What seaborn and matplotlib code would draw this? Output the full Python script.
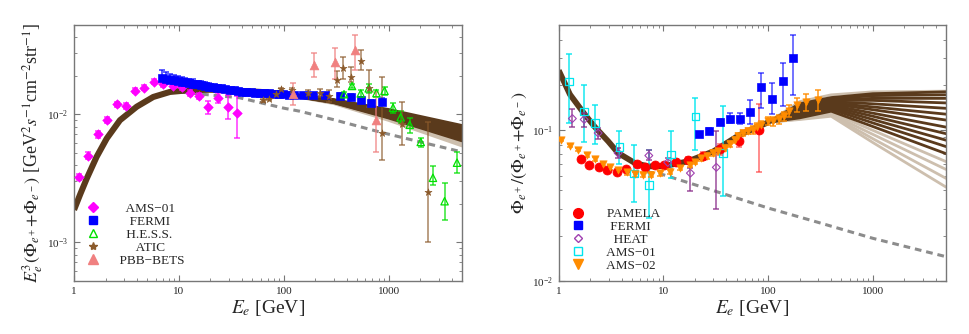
import numpy as np
import pandas as pd
import matplotlib
matplotlib.use("Agg")
import matplotlib.pyplot as plt
import seaborn as sns
from matplotlib.lines import Line2D

# ---------------- data: left panel (total e+ + e- flux) ----------------
ams01_l_e = [1.12, 1.37, 1.68, 2.06, 2.55, 3.13, 3.81, 4.67, 5.78, 7.09, 8.7, 10.6, 12.7, 15.6, 19.0, 23.7, 29.4, 36.0]
ams01_l_y = [3.25e-3, 4.77e-3, 7.0e-3, 9.1e-3, 1.20e-2, 1.16e-2, 1.53e-2, 1.62e-2, 1.80e-2, 1.72e-2, 1.68e-2, 1.63e-2,
             1.47e-2, 1.40e-2, 1.15e-2, 1.35e-2, 1.15e-2, 1.02e-2]
ams01_l_lo = [3.05e-3, 4.5e-3, 6.6e-3, 8.6e-3, 1.14e-2, 1.10e-2, 1.46e-2, 1.55e-2, 1.72e-2, 1.65e-2, 1.61e-2, 1.56e-2,
              1.40e-2, 1.33e-2, 1.0e-2, 1.22e-2, 9.3e-3, 6.6e-3]
ams01_l_hi = [3.45e-3, 5.05e-3, 7.4e-3, 9.6e-3, 1.26e-2, 1.22e-2, 1.60e-2, 1.69e-2, 1.88e-2, 1.80e-2, 1.75e-2, 1.70e-2,
              1.54e-2, 1.47e-2, 1.28e-2, 1.46e-2, 1.42e-2, 1.39e-2]

fermi_l_e = [6.9, 7.5, 8.2, 8.9, 9.7, 10.6, 11.5, 12.5, 13.7, 14.9, 16.3, 17.8, 19.4, 21.2, 23.2, 25.4, 27.8, 30.4,
             33.3, 36.5, 40, 44, 48.5, 53.5, 59, 65, 72, 80, 89, 99, 111, 125, 153, 190, 245, 340, 440, 550, 684, 870]
fermi_l_y = [1.94e-2, 1.91e-2, 1.87e-2, 1.85e-2, 1.82e-2, 1.80e-2, 1.78e-2, 1.76e-2, 1.74e-2, 1.72e-2, 1.70e-2,
             1.68e-2, 1.65e-2, 1.63e-2, 1.61e-2, 1.60e-2, 1.57e-2, 1.55e-2, 1.54e-2, 1.52e-2, 1.51e-2, 1.50e-2,
             1.49e-2, 1.48e-2, 1.47e-2, 1.46e-2, 1.46e-2, 1.45e-2, 1.44e-2, 1.44e-2, 1.43e-2, 1.42e-2, 1.41e-2,
             1.41e-2, 1.41e-2, 1.39e-2, 1.37e-2, 1.29e-2, 1.22e-2, 1.25e-2]
fermi_l_rel = [0.14, 0.12, 0.11, 0.10, 0.10, 0.09, 0.09, 0.08, 0.08, 0.07, 0.07, 0.06, 0.06, 0.05, 0.05, 0.05, 0.04,
               0.04, 0.04, 0.04, 0.04, 0.04, 0.04, 0.04, 0.04, 0.04, 0.04, 0.04, 0.04, 0.04, 0.04, 0.04, 0.04, 0.04,
               0.04, 0.05, 0.05, 0.06, 0.07, 0.08]

hess_e = [375, 447, 541, 645, 764, 912, 1100, 1300, 1585, 2020, 2640, 3410, 4480]
hess_y = [1.44e-2, 1.67e-2, 1.46e-2, 1.60e-2, 1.47e-2, 1.53e-2, 1.13e-2, 9.5e-3, 8.3e-3, 6.1e-3, 3.2e-3, 2.1e-3, 4.2e-3]
hess_lo = [1.38e-2, 1.60e-2, 1.38e-2, 1.48e-2, 1.38e-2, 1.42e-2, 1.03e-2, 8.6e-3, 7.2e-3, 5.6e-3, 2.8e-3, 1.49e-3, 3.5e-3]
hess_hi = [1.50e-2, 1.74e-2, 1.54e-2, 1.72e-2, 1.56e-2, 1.64e-2, 1.23e-2, 1.06e-2, 9.4e-3, 6.6e-3, 3.97e-3, 2.91e-3, 5.1e-3]

atic_e = [63.5, 73, 85, 95, 121, 170, 220, 268, 322, 367, 435, 541, 645, 870, 1330, 2370]
atic_y = [1.29e-2, 1.33e-2, 1.44e-2, 1.57e-2, 1.55e-2, 1.48e-2, 1.46e-2, 1.40e-2, 1.86e-2, 2.32e-2, 1.97e-2,
          2.61e-2, 1.62e-2, 7.2e-3, 8.5e-3, 2.5e-3]
atic_lo = [1.25e-2, 1.29e-2, 1.39e-2, 1.52e-2, 1.49e-2, 1.42e-2, 1.36e-2, 1.26e-2, 1.64e-2, 1.91e-2, 1.80e-2,
           2.22e-2, 1.15e-2, 4.4e-3, 5.75e-3, 1.0e-3]
atic_hi = [1.33e-2, 1.37e-2, 1.49e-2, 1.62e-2, 1.61e-2, 1.54e-2, 1.58e-2, 1.55e-2, 2.20e-2, 2.79e-2, 2.36e-2,
           3.19e-2, 2.22e-2, 1.97e-2, 1.25e-2, 8.75e-3]

pbb_e = [122, 192, 306, 480, 764]
pbb_y = [1.44e-2, 2.45e-2, 2.58e-2, 3.2e-2, 9.0e-3]
pbb_lo = [1.18e-2, 1.97e-2, 1.91e-2, 2.22e-2, 5.1e-3]
pbb_hi = [1.75e-2, 3.0e-2, 3.3e-2, 4.18e-2, 1.5e-2]

# model band (shared part up to 100 GeV, then a fan of curves)
band_l_e = [1, 1.15, 1.32, 1.64, 2.05, 2.74, 3.96, 5.69, 8.2, 12.7, 20, 33, 60, 100]
band_l_y = [1.8e-3, 2.4e-3, 3.15e-3, 4.66e-3, 6.49e-3, 9.02e-3, 1.15e-2, 1.37e-2, 1.50e-2, 1.55e-2, 1.56e-2,
            1.54e-2, 1.50e-2, 1.45e-2]
fan_l_e = [300, 1000, 5000]
fan_l_dark = [[1.29e-2, 1.08e-2, 8.1e-3], [1.28e-2, 1.06e-2, 7.8e-3], [1.28e-2, 1.04e-2, 7.5e-3],
              [1.27e-2, 1.02e-2, 7.25e-3], [1.27e-2, 1.00e-2, 7.0e-3], [1.26e-2, 9.8e-3, 6.75e-3],
              [1.26e-2, 9.6e-3, 6.5e-3], [1.25e-2, 9.5e-3, 6.3e-3]]
fan_l_light = [[1.24e-2, 9.3e-3, 6.0e-3], [1.23e-2, 9.1e-3, 5.75e-3]]

dash_l_e = [10, 38, 100, 142, 300, 820, 2000, 5000]
dash_l_y = [1.5e-2, 1.35e-2, 1.12e-2, 1.06e-2, 9.1e-3, 7.3e-3, 6.1e-3, 5.1e-3]

# ---------------- data: right panel (positron fraction) ----------------
pamela_e = [1.63, 1.96, 2.40, 2.90, 3.59, 4.43, 5.6, 6.7, 8.25, 10.1, 13.1, 17.2, 23.7, 35, 52.5, 82]
pamela_y = [0.0645, 0.0589, 0.0568, 0.0548, 0.0532, 0.0553, 0.060, 0.0568, 0.0585, 0.0585, 0.0616, 0.0638,
            0.068, 0.075, 0.0845, 0.10]
pamela_lo = [0.062, 0.0568, 0.0548, 0.053, 0.0515, 0.0535, 0.058, 0.055, 0.0565, 0.0565, 0.059, 0.061,
             0.064, 0.069, 0.078, 0.053]
pamela_hi = [0.067, 0.061, 0.0588, 0.0566, 0.055, 0.0571, 0.062, 0.0586, 0.0605, 0.0605, 0.0642, 0.0666,
             0.072, 0.081, 0.092, 0.15]

fermi_r_e = [21.7, 27.2, 34.4, 43.4, 54.1, 67.7, 85.7, 110, 138, 174]
fermi_r_y = [0.094, 0.0995, 0.1137, 0.1197, 0.1197, 0.1324, 0.193, 0.1625, 0.212, 0.303]
fermi_r_lo = [0.09, 0.095, 0.108, 0.112, 0.11, 0.11, 0.141, 0.128, 0.146, 0.171]
fermi_r_hi = [0.098, 0.104, 0.119, 0.13, 0.13, 0.16, 0.241, 0.207, 0.278, 0.426]

heat_e = [1.35, 1.75, 2.38, 3.69, 7.25, 11.0, 18.1, 32]
heat_y = [0.1197, 0.118, 0.096, 0.0707, 0.068, 0.0612, 0.052, 0.0568]
heat_lo = [0.105, 0.105, 0.088, 0.066, 0.0632, 0.057, 0.0393, 0.030]
heat_hi = [0.139, 0.13, 0.104, 0.076, 0.0735, 0.066, 0.0562, 0.0985]

ams01_r_e = [1.25, 1.74, 2.22, 3.78, 5.25, 7.3, 11.8, 20.2, 37]
ams01_r_y = [0.21, 0.1337, 0.112, 0.0775, 0.0515, 0.0434, 0.069, 0.123, 0.0707]
ams01_r_lo = [0.112, 0.0832, 0.0813, 0.06, 0.0334, 0.0263, 0.0482, 0.0745, 0.0364]
ams01_r_hi = [0.32, 0.2, 0.148, 0.0995, 0.0805, 0.074, 0.0985, 0.164, 0.146]

ams02_e = [1.04, 1.28, 1.54, 1.85, 2.22, 2.66, 3.08, 3.69, 4.44, 5.33, 6.39, 7.66, 9.2, 11.5, 14.3, 17.8, 20,
           23, 26, 29.6, 33, 38.4, 43, 47.9, 52, 57, 64, 71.3, 78, 85.7, 99, 111, 126, 143, 159, 189, 230, 301]
ams02_y = [0.0867, 0.0791, 0.0745, 0.069, 0.0648, 0.0597, 0.0567, 0.0542, 0.0525, 0.0513, 0.0508, 0.0508,
           0.052, 0.0533, 0.0562, 0.059, 0.062, 0.0655, 0.068, 0.0707, 0.073, 0.0764, 0.081, 0.0867, 0.091,
           0.096, 0.099, 0.101, 0.105, 0.109, 0.115, 0.115, 0.118, 0.124, 0.135, 0.148, 0.154, 0.16]
ams02_err = [0.002, 0.002, 0.002, 0.002, 0.002, 0.002, 0.002, 0.002, 0.002, 0.002, 0.002, 0.002, 0.002, 0.002,
             0.002, 0.002, 0.002, 0.003, 0.003, 0.003, 0.003, 0.004, 0.004, 0.004, 0.005, 0.005, 0.005, 0.006,
             0.006, 0.007, 0.007, 0.008, 0.008, 0.009, 0.012, 0.015, 0.019, 0.025]

band_r_e = [1, 1.28, 1.78, 2.22, 2.97, 3.69, 5.33, 7.14, 10.3, 17.1, 30, 53, 100]
band_r_y = [0.25, 0.173, 0.127, 0.105, 0.0845, 0.0707, 0.0607, 0.0576, 0.058, 0.0622, 0.0725, 0.093, 0.113]
fan_r_e = [200, 400, 1000, 5000]
fan_r_dark = [[0.150, 0.165, 0.175, 0.180], [0.148, 0.162, 0.170, 0.172], [0.145, 0.160, 0.163, 0.163],
              [0.143, 0.158, 0.158, 0.152], [0.140, 0.155, 0.150, 0.140], [0.138, 0.152, 0.143, 0.128],
              [0.135, 0.150, 0.137, 0.117], [0.132, 0.147, 0.130, 0.105], [0.130, 0.144, 0.124, 0.095],
              [0.127, 0.141, 0.118, 0.086], [0.124, 0.138, 0.112, 0.078], [0.121, 0.134, 0.106, 0.070]]
fan_r_light = [[0.155, 0.172, 0.180, 0.182], [0.122, 0.131, 0.100, 0.062], [0.120, 0.128, 0.094, 0.055],
               [0.119, 0.126, 0.088, 0.048], [0.118, 0.124, 0.083, 0.042]]

dash_r_e = [7, 10, 30, 100, 300, 1000, 5000]
dash_r_y = [0.053, 0.0507, 0.0398, 0.0305, 0.0245, 0.0192, 0.0145]

# ---------------- style ----------------
sns.set_style("ticks")
plt.rcParams['font.family'] = ['Liberation Serif', 'DejaVu Serif']
plt.rcParams['mathtext.fontset'] = 'stix'

DARK = '#5a3a1c'
LIGHT = '#cdbfae'
DASH = '#8c8c8c'


def fan_frame(start_e, start_y, fan_e, dark, light):
    # long table: every fan curve starts where the shared band ends
    rows = []
    k = 0
    for tone, curves in (('light', light), ('dark', dark)):
        for c in curves:
            for e, y in zip([start_e] + list(fan_e), [start_y] + list(c)):
                rows.append((k, tone, e, y))
            k += 1
    return pd.DataFrame(rows, columns=['curve', 'tone', 'E', 'y'])


def errbars(ax, e, y, lo, hi, color, alpha=0.8, z=3):
    y = np.array(y)
    ax.errorbar(e, y, yerr=[y - np.array(lo), np.array(hi) - y], fmt='none', ecolor=color,
                elinewidth=1.1, capsize=2.2, capthick=1.1, alpha=alpha, zorder=z)


def frame(ax, xlim, ylim):
    ax.set_xscale('log')
    ax.set_yscale('log')
    ax.set_xlim(*xlim)
    ax.set_ylim(*ylim)
    ax.set_xticks([1, 10, 100, 1000], labels=['1', '10', '100', '1000'])
    ax.tick_params(which='both', direction='in', top=True, right=True, color='#777777',
                   labelsize=8, pad=4)
    ax.tick_params(which='major', length=4.5, width=0.8)
    ax.tick_params(which='minor', length=2.5, width=0.6)
    for s in ax.spines.values():
        s.set_color('#777777')
        s.set_linewidth(1.0)


def draw_band(ax, base_e, base_y, fan_e, dark, light, lw_base, lw_fan):
    fan = fan_frame(base_e[-1], base_y[-1], fan_e, dark, light)
    sns.lineplot(data=fan, x='E', y='y', units='curve', estimator=None, hue='tone', hue_order=['light', 'dark'],
                 palette={'light': LIGHT, 'dark': DARK}, linewidth=lw_fan, legend=False, sort=False,
                 ax=ax, zorder=2)
    sns.lineplot(x=base_e, y=base_y, color=DARK, linewidth=lw_base, ax=ax, zorder=2,
                 solid_capstyle='butt')


fig = plt.figure(figsize=(9.69, 3.34), dpi=100)
axl = fig.add_axes([0.0764, 0.1587, 0.4004, 0.7664])
axr = fig.add_axes([0.5766, 0.1587, 0.3997, 0.7664])

# ---------------- left panel ----------------
frame(axl, (1, 5000), (5e-4, 0.05))
axl.plot(dash_l_e, dash_l_y, color=DASH, lw=2.2, ls=(0, (2.2, 1.6)), zorder=1)
draw_band(axl, band_l_e, band_l_y, fan_l_e, fan_l_dark, fan_l_light, 4.4, 3.0)

errbars(axl, ams01_l_e, ams01_l_y, ams01_l_lo, ams01_l_hi, '#ff00ff')
fy = np.array(fermi_l_y)
errbars(axl, fermi_l_e, fy, fy * (1 - np.array(fermi_l_rel) * 0.4), fy * (1 + np.array(fermi_l_rel)), '#0000ff')
errbars(axl, hess_e, hess_y, hess_lo, hess_hi, '#00e000')
errbars(axl, atic_e, atic_y, atic_lo, atic_hi, '#8b5a2b', alpha=0.75)
errbars(axl, pbb_e, pbb_y, pbb_lo, pbb_hi, '#f08080', alpha=0.8)

sns.scatterplot(x=ams01_l_e, y=ams01_l_y, marker='D', s=24, color='#ff00ff', edgecolor='#ff00ff', ax=axl, zorder=4)
sns.scatterplot(x=fermi_l_e, y=fermi_l_y, marker='s', s=34, color='#0000ff', edgecolor='#0000ff', ax=axl, zorder=4)
sns.scatterplot(x=hess_e, y=hess_y, marker='^', s=28, facecolor='none', edgecolor='#00e000', linewidth=0.9,
                ax=axl, zorder=4)
sns.scatterplot(x=atic_e, y=atic_y, marker='*', s=28, color='#8b5a2b', edgecolor='#8b5a2b', ax=axl, zorder=4)
sns.scatterplot(x=pbb_e, y=pbb_y, marker='^', s=40, color='#f08080', edgecolor='#f08080', ax=axl, zorder=4)

axl.set_xlabel(r'$E_e$ [GeV]', fontsize=14, labelpad=2)
axl.set_ylabel(r'$E_e^3(\Phi_{e^+}\!+\!\Phi_{e^-})$ [GeV$^2 s^{-1}$cm$^{-2}$str$^{-1}$]', fontsize=13, labelpad=2)

hl = [Line2D([], [], ls='none', marker='D', ms=5, color='#ff00ff'),
      Line2D([], [], ls='none', marker='s', ms=6, color='#0000ff'),
      Line2D([], [], ls='none', marker='^', ms=5.5, mfc='none', mec='#00e000'),
      Line2D([], [], ls='none', marker='*', ms=6, color='#8b5a2b'),
      Line2D([], [], ls='none', marker='^', ms=6.5, color='#f08080')]
axl.legend(hl, ['      AMS\u221201', '       FERMI', '      H.E.S.S.', '         ATIC', '    PBB\u2212BETS'],
           loc='lower left', bbox_to_anchor=(0.0, 0.02), frameon=False, fontsize=9.5, handletextpad=0.2,
           labelspacing=0.05, borderaxespad=0.3, handlelength=1.5)

# ---------------- right panel ----------------
frame(axr, (1, 5000), (0.01, 0.5))
axr.plot(dash_r_e, dash_r_y, color=DASH, lw=2.2, ls=(0, (2.2, 1.6)), zorder=1)
draw_band(axr, band_r_e, band_r_y, fan_r_e, fan_r_dark, fan_r_light, 4.2, 2.0)

errbars(axr, ams01_r_e, ams01_r_y, ams01_r_lo, ams01_r_hi, '#00e5ee', alpha=0.9)
errbars(axr, heat_e, heat_y, heat_lo, heat_hi, '#8b2f8b', alpha=0.85)
errbars(axr, pamela_e, pamela_y, pamela_lo, pamela_hi, '#ff3030', alpha=0.7)
errbars(axr, fermi_r_e, fermi_r_y, fermi_r_lo, fermi_r_hi, '#0000ff', alpha=0.7)
ay = np.array(ams02_y)
errbars(axr, ams02_e, ay, ay - np.array(ams02_err), ay + np.array(ams02_err), '#ff8c00', alpha=0.9)

sns.scatterplot(x=pamela_e, y=pamela_y, marker='o', s=42, color='#ff0000', edgecolor='#ff0000', ax=axr, zorder=4)
sns.scatterplot(x=fermi_r_e, y=fermi_r_y, marker='s', s=36, color='#0000ff', edgecolor='#0000ff', ax=axr, zorder=4)
sns.scatterplot(x=heat_e, y=heat_y, marker='D', s=16, facecolor='none', edgecolor='#a040b0', linewidth=0.8,
                ax=axr, zorder=4)
sns.scatterplot(x=ams01_r_e, y=ams01_r_y, marker='s', s=28, facecolor='none', edgecolor='#00e5ee', linewidth=0.9,
                ax=axr, zorder=4)
sns.scatterplot(x=ams02_e, y=ams02_y, marker='v', s=28, color='#ff8c00', edgecolor='#ff8c00', ax=axr, zorder=5)

axr.set_xlabel(r'$E_e$ [GeV]', fontsize=14, labelpad=2)
axr.set_ylabel(r'$\Phi_{e^+}/(\Phi_{e^+}\!+\!\Phi_{e^-})$', fontsize=13, labelpad=2)

hr = [Line2D([], [], ls='none', marker='o', ms=7, color='#ff0000'),
      Line2D([], [], ls='none', marker='s', ms=6, color='#0000ff'),
      Line2D([], [], ls='none', marker='D', ms=4.5, mfc='none', mec='#a040b0'),
      Line2D([], [], ls='none', marker='s', ms=6, mfc='none', mec='#00e5ee'),
      Line2D([], [], ls='none', marker='v', ms=6.5, color='#ff8c00')]
axr.legend(hr, ['     PAMELA', '      FERMI', '       HEAT', '     AMS\u221201', '     AMS\u221202'],
           loc='lower left', bbox_to_anchor=(0.0, 0.0), frameon=False, fontsize=9.5, handletextpad=0.2,
           labelspacing=0.05, borderaxespad=0.3, handlelength=1.5)

fig.savefig('out.png', dpi=100)
